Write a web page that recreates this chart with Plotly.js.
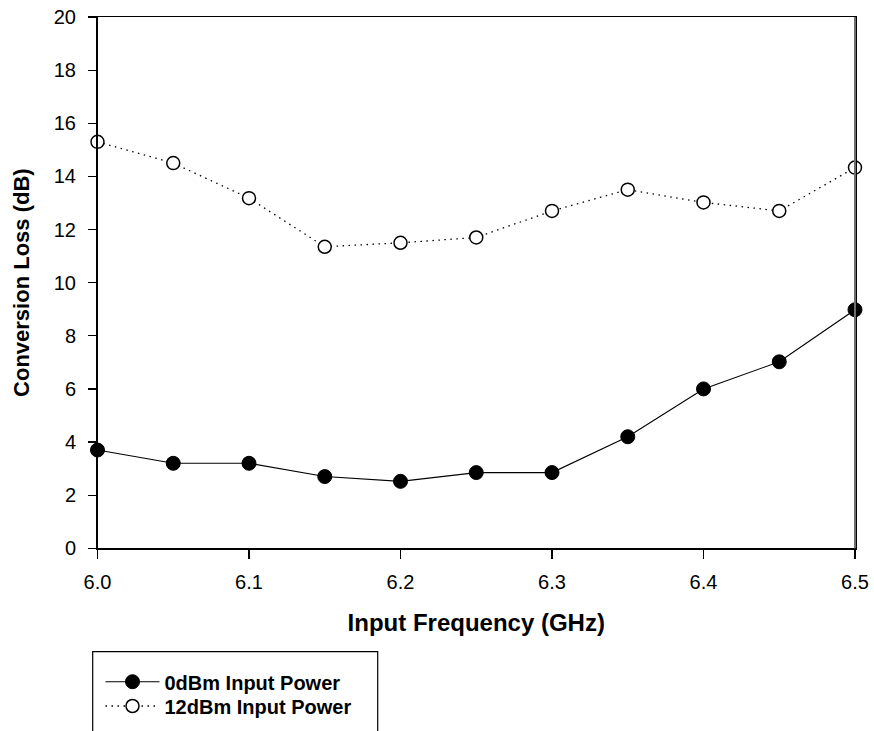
<!DOCTYPE html>
<html>
<head>
<meta charset="utf-8">
<script src="https://cdn.plot.ly/plotly-3.0.1.min.js"></script>
<style>
html,body{margin:0;padding:0;background:#fff;}
#chart{width:874px;height:731px;}
</style>
</head>
<body>
<div id="chart"></div>
<script>
// Data
var frequency = [6.00, 6.05, 6.10, 6.15, 6.20, 6.25, 6.30, 6.35, 6.40, 6.45, 6.50];
var loss0dBm  = [3.70, 3.20, 3.20, 2.70, 2.52, 2.85, 2.85, 4.20, 6.00, 7.02, 8.98];
var loss12dBm = [15.30, 14.50, 13.18, 11.35, 11.50, 11.70, 12.70, 13.50, 13.02, 12.70, 14.33];
var seriesNames = ["0dBm Input Power", "12dBm Input Power"];
var xTitle = "Input Frequency (GHz)";
var yTitle = "Conversion Loss (dB)";

var FONT = "Liberation Sans, Arial, sans-serif";
var W = 874, H = 731;
// plot-area position in pixels (styling only)
var PL = 97.5, PR = 855, PT = 17, PB = 548.3;

var traces = [
  {
    x: frequency, y: loss0dBm, name: seriesNames[0], legend: "legend",
    type: "scatter", mode: "lines+markers", cliponaxis: false,
    line: {color: "#000", width: 1.1},
    marker: {symbol: "circle", size: 14, color: "#000", line: {color: "#000", width: 1}}
  },
  {
    x: frequency, y: loss12dBm, name: seriesNames[1], legend: "legend2",
    type: "scatter", mode: "lines+markers", cliponaxis: false,
    line: {color: "#000", width: 1.3, dash: "1.5px,4.5px"},
    marker: {symbol: "circle", size: 13, color: "#fff", line: {color: "#000", width: 1.5}}
  }
];

var legendCommon = {
  x: 100.5 / W, xanchor: "left", yanchor: "middle",
  bgcolor: "rgba(0,0,0,0)", borderwidth: 0,
  font: {family: FONT, size: 20, color: "#000", weight: "bold"},
  itemwidth: 54
};

var layout = {
  width: W, height: H,
  margin: {l: 0, r: 0, t: 0, b: 0, pad: 0},
  paper_bgcolor: "#fff", plot_bgcolor: "#fff",
  font: {family: FONT, color: "#000", size: 20},
  showlegend: true,
  xaxis: {
    domain: [PL / W, PR / W],
    range: [6.0, 6.5], tick0: 6.0, dtick: 0.1, tickformat: ".1f",
    ticks: "outside", ticklen: 9, tickwidth: 1.2, tickcolor: "#000",
    showline: true, linecolor: "#000", linewidth: 1.5, mirror: true,
    showgrid: false, zeroline: false, automargin: false,
    tickfont: {family: FONT, size: 20, color: "#000"},
    ticklabelstandoff: 6,
    title: {text: xTitle, font: {family: FONT, size: 24, color: "#000", weight: "bold"}, standoff: 22}
  },
  yaxis: {
    domain: [1 - PB / H, 1 - PT / H],
    range: [0, 20], tick0: 0, dtick: 2,
    ticks: "outside", ticklen: 8, tickwidth: 1.2, tickcolor: "#000",
    showline: true, linecolor: "#000", linewidth: 1.5, mirror: true,
    showgrid: false, zeroline: false, automargin: false,
    tickfont: {family: FONT, size: 20, color: "#000"},
    ticklabelstandoff: 8,
    title: {text: yTitle, font: {family: FONT, size: 22, color: "#000", weight: "bold"}, standoff: 18}
  },
  legend: Object.assign({}, legendCommon, {y: 1 - 681.7 / H}),
  legend2: Object.assign({}, legendCommon, {y: 1 - 706 / H}),
  shapes: [
    {type: "rect", xref: "paper", yref: "paper",
     x0: 92.7 / W, x1: 377.7 / W, y0: -0.05, y1: 1 - 651.7 / H,
     line: {color: "#000", width: 1.2}, fillcolor: "rgba(0,0,0,0)", layer: "below"},
    {type: "line", xref: "paper", yref: "paper",
     x0: PR / W, x1: PR / W, y0: 1 - PB / H, y1: 1 - PT / H,
     line: {color: "#6e6e6e", width: 2}, layer: "above"}
  ]
};

Plotly.newPlot("chart", traces, layout, {displayModeBar: false, staticPlot: true});
</script>
</body>
</html>
